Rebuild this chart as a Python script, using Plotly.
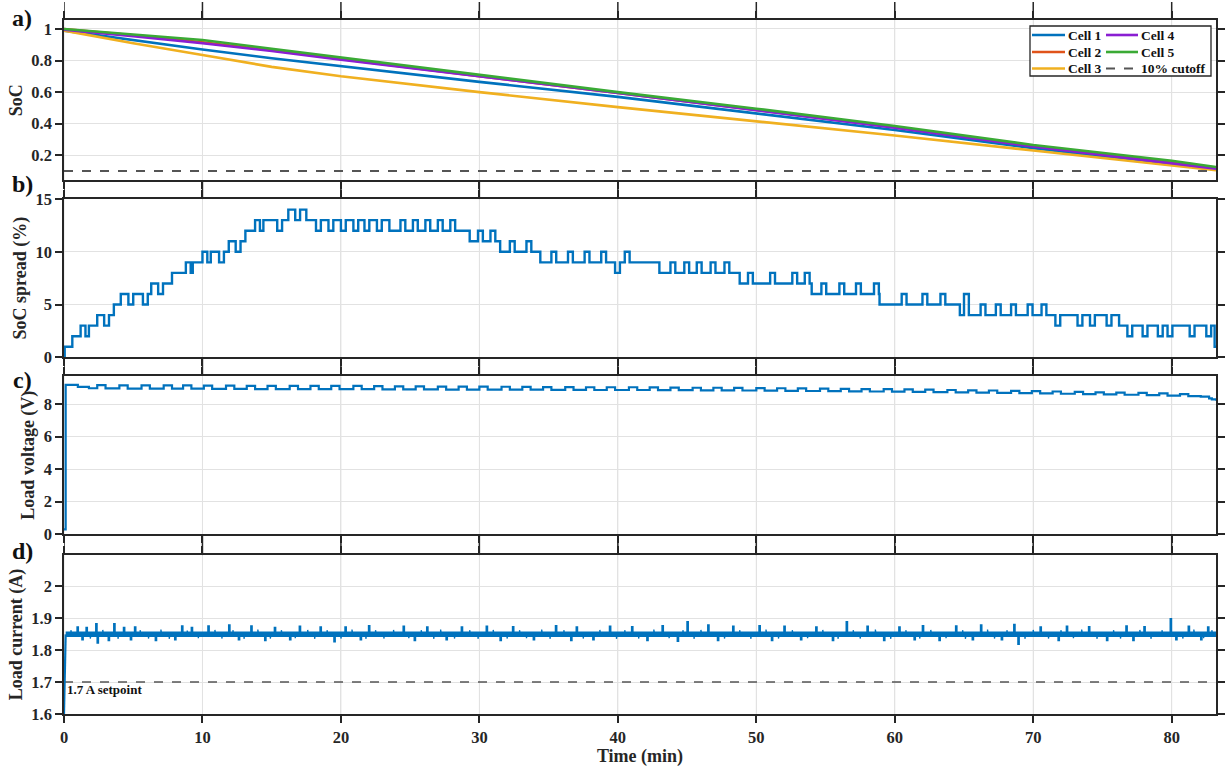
import bisect
import plotly.graph_objects as go

# ---------------- data ----------------
time_pts = [0, 5, 10, 15, 20, 30, 40, 50, 60, 70, 80, 83.2]
soc_cell1 = [0.99, 0.93, 0.87, 0.815, 0.765, 0.665, 0.57, 0.465, 0.36, 0.245, 0.145, 0.11]
soc_cell2 = [1.00, 0.96, 0.915, 0.865, 0.81, 0.70, 0.595, 0.488, 0.378, 0.258, 0.155, 0.118]
soc_cell3 = [0.99, 0.91, 0.835, 0.76, 0.70, 0.60, 0.505, 0.415, 0.325, 0.23, 0.135, 0.105]
soc_cell4 = [0.995, 0.955, 0.91, 0.86, 0.805, 0.70, 0.595, 0.485, 0.375, 0.255, 0.152, 0.115]
soc_cell5 = [1.00, 0.965, 0.93, 0.875, 0.82, 0.71, 0.60, 0.495, 0.385, 0.265, 0.165, 0.125]
cell_names = ["Cell 1", "Cell 2", "Cell 3", "Cell 4", "Cell 5"]
cell_colors = ["#0072BD", "#E0531A", "#F0B020", "#8A1ED2", "#3AAA35"]
cutoff_soc = 0.10
cutoff_name = "10% cutoff"

# SoC spread: base step levels and short excursions
spread_level_t = [0, 0.05, 0.6, 1.8, 2.4, 3.6, 4.1, 6.3, 7.8, 9.3, 10.6, 11.9, 13.1, 14.4,
                  16.2, 17.5, 23.5, 29.3, 31.5, 34.4, 43.0, 48.8, 54.0, 58.9, 64.7, 76.2, 83.1, 83.2]
spread_level_v = [0, 1, 2, 3, 4, 5, 6, 7, 8, 9, 10, 11, 12, 13,
                  14, 13, 12, 11, 10, 9, 8, 7, 6, 5, 4, 3, 1, 1]
spread_spike_t = [1.2, 2.9, 4.65, 5.7, 6.8, 8.8, 10.0, 11.2, 12.4, 13.8, 15.4, 16.7,
                  18.2, 19.1, 20.0, 20.9, 21.7, 22.6,
                  24.3, 25.2, 26.1, 27.0, 27.9, 29.9, 30.8, 32.2, 33.4,
                  35.2, 36.4, 37.6, 38.8, 39.8, 40.5,
                  43.8, 44.8, 45.7, 46.7, 47.7, 49.4, 51.0, 52.6, 53.5,
                  54.7, 56.0, 57.2, 58.5, 60.5, 62.0, 63.3,
                  65.0, 66.2, 67.3, 68.4, 69.6, 70.6, 71.6, 73.2, 74.1, 75.3,
                  76.8, 77.9, 79.0, 79.7, 81.3, 82.5]
spread_spike_v = [3, 3, 5, 5, 6, 9, 10, 9, 10, 13, 12, 13,
                  12, 12, 12, 12, 12, 12,
                  13, 13, 13, 13, 13, 12, 12, 11, 11,
                  10, 10, 10, 10, 8, 10,
                  9, 9, 9, 9, 9, 8, 8, 8, 8,
                  7, 7, 7, 7, 6, 6, 6,
                  6, 5, 5, 5, 5, 5, 3, 3, 3, 3,
                  2, 2, 2, 2, 2, 2]
spread_spike_w = 0.35

# Load voltage: start-up, then square bumps
volt_start_t = [0.0, 0.12, 1.0, 1.8]
volt_start_v = [0.3, 9.17, 9.05, 8.97]
volt_bump_t = [2.4, 4.0, 5.6, 7.2, 8.6, 10.1, 11.7, 13.2, 14.7, 16.3, 17.8, 19.3, 20.9, 22.4,
               23.9, 25.4, 27.0, 28.5, 30.0, 31.6, 33.1, 34.6, 36.2, 37.7, 39.2, 40.8, 42.3,
               43.8, 45.4, 46.9, 48.4, 50.0, 51.5, 53.0, 54.6, 56.1, 57.6, 59.2, 60.7, 62.2,
               63.8, 65.3, 66.8, 68.4, 69.9, 71.4, 73.0, 74.5, 76.0, 77.6, 79.1, 80.6, 82.1]
volt_low = [8.96, 8.95, 8.95, 8.94, 8.94, 8.93, 8.93, 8.92, 8.92, 8.92, 8.91, 8.91, 8.91, 8.90,
            8.90, 8.90, 8.89, 8.89, 8.89, 8.88, 8.88, 8.87, 8.87, 8.86, 8.86, 8.86, 8.85,
            8.85, 8.84, 8.84, 8.83, 8.82, 8.81, 8.80, 8.79, 8.78, 8.77, 8.76, 8.75, 8.73,
            8.72, 8.70, 8.69, 8.67, 8.65, 8.63, 8.61, 8.59, 8.57, 8.55, 8.52, 8.49, 8.35]
volt_bump_h = [0.20, 0.20, 0.20, 0.20, 0.20, 0.20, 0.20, 0.20, 0.20, 0.20, 0.20, 0.20, 0.20, 0.20,
               0.18, 0.18, 0.18, 0.18, 0.18, 0.18, 0.17, 0.17, 0.17, 0.17, 0.17, 0.17, 0.17,
               0.16, 0.16, 0.16, 0.16, 0.16, 0.16, 0.16, 0.16, 0.15, 0.15, 0.15, 0.15, 0.15,
               0.14, 0.14, 0.14, 0.14, 0.14, 0.14, 0.13, 0.13, 0.13, 0.13, 0.13, 0.12, 0.10]
volt_bump_w = 0.6
volt_end_t = [82.9, 83.2]
volt_end_v = [8.28, 8.2]

# Load current: band level, large spikes and small hair-like excursions
curr_start_t = [0.0, 0.12]
curr_start_v = [1.6, 1.849]
curr_level = 1.849
curr_spike_t = [0.95, 1.6, 2.3, 3.6, 4.3, 5.1, 8.5, 9.2, 10.4, 11.9, 13.5, 15.2, 17.0, 18.5, 20.3,
                22.0, 24.5, 26.2, 28.7, 30.5, 32.4, 35.5, 37.0, 39.4, 41.0, 43.2, 45.0, 46.5,
                48.3, 50.2, 52.0, 54.3, 56.5, 58.0, 60.3, 62.0, 64.4, 66.2, 68.6, 70.5, 72.4,
                74.0, 76.7, 78.0, 79.9, 81.2, 82.6,
                1.3, 2.4, 3.2, 4.8, 6.6, 8.0, 12.6, 14.5, 16.3, 19.5, 21.4, 25.3, 27.6, 31.5,
                33.9, 36.6, 38.2, 42.1, 44.3, 47.2, 51.1, 53.2, 55.5, 59.2, 61.4, 63.2, 65.6,
                67.7, 68.9, 71.8, 75.3, 77.2, 80.3, 82.1]
curr_spike_v = [1.872, 1.870, 1.882, 1.882, 1.870, 1.872, 1.875, 1.870, 1.875, 1.878, 1.875, 1.870,
                1.874, 1.872, 1.872, 1.876, 1.874, 1.872, 1.872, 1.874, 1.873, 1.876, 1.872,
                1.874, 1.873, 1.876, 1.888, 1.878, 1.874, 1.876, 1.874, 1.872, 1.888, 1.874,
                1.872, 1.876, 1.875, 1.878, 1.880, 1.872, 1.874, 1.873, 1.875, 1.873, 1.898,
                1.874, 1.872,
                1.832, 1.822, 1.830, 1.832, 1.830, 1.832, 1.832, 1.830, 1.832, 1.826, 1.832,
                1.830, 1.832, 1.830, 1.832, 1.830, 1.832, 1.830, 1.828, 1.830, 1.830, 1.832,
                1.830, 1.830, 1.832, 1.830, 1.832, 1.832, 1.818, 1.830, 1.830, 1.830, 1.832,
                1.832]
curr_hair_t = [0.5, 1.9, 2.8, 3.9, 5.5, 6.1, 7.0, 7.6, 8.9, 9.7, 10.9, 11.4, 12.2, 13.0, 14.0,
               14.9, 15.7, 16.7, 17.6, 18.1, 19.0, 20.0, 20.8, 21.8, 22.5, 23.1, 23.8, 24.9,
               25.8, 26.7, 27.2, 28.2, 29.3, 29.9, 31.0, 32.0, 32.9, 33.4, 34.5, 35.1, 36.1,
               37.5, 38.7, 39.9, 40.5, 41.5, 42.6, 43.7, 44.7, 45.5, 46.0, 47.7, 48.8, 49.6,
               50.7, 51.6, 52.6, 53.7, 54.8, 55.9, 57.0, 57.5, 58.6, 59.7, 60.8, 61.8, 62.6,
               63.7, 64.9, 65.1, 66.7, 67.2, 68.1, 69.4, 70.0, 71.1, 72.0, 72.9, 73.5, 74.6,
               75.8, 76.3, 77.7, 78.5, 79.3, 80.8, 81.6, 82.3, 82.9]
curr_hair_v = [1.862, 1.836, 1.863, 1.835, 1.862, 1.836, 1.864, 1.835, 1.861, 1.837, 1.863,
               1.836, 1.862, 1.835, 1.864, 1.836, 1.862, 1.837, 1.863, 1.835, 1.862, 1.836,
               1.864, 1.835, 1.862, 1.836, 1.863, 1.837, 1.862, 1.835, 1.864, 1.836, 1.862,
               1.835, 1.863, 1.836, 1.862, 1.837, 1.864, 1.835, 1.862, 1.836, 1.863, 1.835,
               1.862, 1.836, 1.864, 1.837, 1.862, 1.835, 1.863, 1.836, 1.862, 1.835, 1.864,
               1.836, 1.862, 1.837, 1.863, 1.835, 1.862, 1.836, 1.864, 1.835, 1.862, 1.836,
               1.863, 1.837, 1.862, 1.835, 1.864, 1.836, 1.862, 1.835, 1.863, 1.836, 1.862,
               1.837, 1.864, 1.835, 1.862, 1.836, 1.863, 1.835, 1.862, 1.836, 1.864, 1.837,
               1.862]
curr_spike_w = 0.08
setpoint = 1.7
setpoint_label = "1.7 A setpoint"

x_ticks = [0, 10, 20, 30, 40, 50, 60, 70, 80]
x_max = 83.2

# ---------------- build step series ----------------
def level_at(t):
    i = bisect.bisect_right(spread_level_t, t) - 1
    return spread_level_v[max(i, 0)]

ev = list(zip(spread_level_t, spread_level_v))
for ts, vs in zip(spread_spike_t, spread_spike_v):
    ev.append((ts, vs))
    ev.append((ts + spread_spike_w, level_at(ts + spread_spike_w)))
ev.sort(key=lambda p: p[0])
spread_x = [p[0] for p in ev]
spread_y = [p[1] for p in ev]

volt_x = list(volt_start_t)
volt_y = list(volt_start_v)
for ts, lo, h in zip(volt_bump_t, volt_low, volt_bump_h):
    volt_x += [ts, ts + volt_bump_w]
    volt_y += [lo + h, lo]
volt_x += volt_end_t
volt_y += volt_end_v

def spikes(ts_list, vs_list, w):
    xs, ys = [], []
    for ts, vs in zip(ts_list, vs_list):
        xs += [ts, ts, ts + w, ts + w, None]
        ys += [curr_level, vs, vs, curr_level, None]
    return xs, ys

spk_x, spk_y = spikes(curr_spike_t, curr_spike_v, curr_spike_w)
hair_x, hair_y = spikes(curr_hair_t, curr_hair_v, 0.05)

# ---------------- figure ----------------
BLUE = "#0072BD"
INK = "#262626"
FONT = "Liberation Serif, Times New Roman, serif"
fig = go.Figure()

for name, vals, col in zip(cell_names, [soc_cell1, soc_cell2, soc_cell3, soc_cell4, soc_cell5],
                           cell_colors):
    fig.add_trace(go.Scatter(x=time_pts, y=vals, mode="lines", name=name,
                             line=dict(color=col, width=2.6), showlegend=False,
                             xaxis="x", yaxis="y"))
fig.add_trace(go.Scatter(x=[0, x_max], y=[cutoff_soc, cutoff_soc], mode="lines",
                         name=cutoff_name, line=dict(color="#555555", width=2, dash="dash"),
                         showlegend=False, xaxis="x", yaxis="y"))

fig.add_trace(go.Scatter(x=spread_x, y=spread_y, mode="lines", line=dict(color=BLUE, width=2.4, shape="hv"),
                         showlegend=False, xaxis="x2", yaxis="y2"))
fig.add_trace(go.Scatter(x=volt_x, y=volt_y, mode="lines", line=dict(color=BLUE, width=2.2, shape="hv"),
                         showlegend=False, xaxis="x3", yaxis="y3"))

fig.add_trace(go.Scatter(x=[0, x_max], y=[setpoint, setpoint], mode="lines",
                         line=dict(color="#555555", width=1.5, dash="dash"),
                         showlegend=False, xaxis="x4", yaxis="y4"))
fig.add_trace(go.Scatter(x=[curr_start_t[-1], x_max], y=[curr_level, curr_level], mode="lines",
                         line=dict(color=BLUE, width=5.5), showlegend=False, xaxis="x4", yaxis="y4"))
fig.add_trace(go.Scatter(x=curr_start_t, y=curr_start_v, mode="lines",
                         line=dict(color=BLUE, width=2.2), showlegend=False, xaxis="x4", yaxis="y4"))
fig.add_trace(go.Scatter(x=hair_x, y=hair_y, mode="lines", line=dict(color=BLUE, width=1.3),
                         showlegend=False, xaxis="x4", yaxis="y4"))
fig.add_trace(go.Scatter(x=spk_x, y=spk_y, mode="lines", line=dict(color=BLUE, width=1.6),
                         showlegend=False, xaxis="x4", yaxis="y4"))

ax_common = dict(showline=True, linecolor=INK, linewidth=1.5, mirror="ticks",
                 ticks="outside", tickcolor=INK, tickwidth=1.5, automargin=False,
                 showgrid=True, gridcolor="#e2e2e2", gridwidth=1, zeroline=False,
                 tickfont=dict(size=16.5, color=INK))
xa = dict(ax_common, range=[0, x_max], tickvals=x_ticks, ticklen=7)
ya = dict(ax_common, ticklen=7)

domains = {"a": [0.769, 1.0], "b": [0.514, 0.742], "c": [0.259, 0.487], "d": [0.0, 0.229]}
ytitle = dict(font=dict(size=18, color=INK), standoff=4)

fig.update_layout(
    width=1225, height=767,
    margin=dict(l=64, r=9, t=20, b=53),
    paper_bgcolor="white", plot_bgcolor="white",
    font=dict(family=FONT, weight="bold", color=INK),
    showlegend=False,
    xaxis=dict(xa, anchor="y", showticklabels=False),
    xaxis2=dict(xa, anchor="y2", showticklabels=False),
    xaxis3=dict(xa, anchor="y3", showticklabels=False),
    xaxis4=dict(xa, anchor="y4", showticklabels=True,
                title=dict(text="Time (min)", font=dict(size=18, color=INK), standoff=9)),
    yaxis=dict(ya, domain=domains["a"], anchor="x", range=[0.041, 1.057],
               tickvals=[0.2, 0.4, 0.6, 0.8, 1.0], ticktext=["0.2", "0.4", "0.6", "0.8", "1"],
               title=dict(ytitle, text="SoC")),
    yaxis2=dict(ya, domain=domains["b"], anchor="x2", range=[0, 15], tickvals=[0, 5, 10, 15],
                title=dict(ytitle, text="SoC spread (%)")),
    yaxis3=dict(ya, domain=domains["c"], anchor="x3", range=[0, 9.72], tickvals=[0, 2, 4, 6, 8],
                title=dict(ytitle, text="Load voltage (V)")),
    yaxis4=dict(ya, domain=domains["d"], anchor="x4", range=[1.6, 2.097],
                tickvals=[1.6, 1.7, 1.8, 1.9, 2.0], ticktext=["1.6", "1.7", "1.8", "1.9", "2"],
                title=dict(ytitle, text="Load current (A)")),
)

# pixel -> paper helpers (plot area: x 64..1216, y 20..714)
def px(x):
    return (x - 64) / 1152.0

def py(y):
    return (714 - y) / 694.0

shapes = []
gaps = [(domains["a"][0], 1.0 + 18 / 694.0),
        (domains["b"][1], domains["a"][0]),
        (domains["c"][1], domains["b"][0]),
        (domains["d"][1], domains["c"][0])]
for xv in x_ticks:
    shapes.append(dict(type="line", xref="x4", yref="paper", x0=xv, x1=xv, y0=0, y1=1,
                       line=dict(color="#e2e2e2", width=1), layer="below"))
    for g0, g1 in gaps:
        if g0 == domains["a"][0]:
            g0 = 1.0
        shapes.append(dict(type="line", xref="x4", yref="paper", x0=xv, x1=xv, y0=g0, y1=g1,
                           line=dict(color=INK, width=1.5), layer="above"))

# manual two-column legend
shapes.append(dict(type="rect", xref="paper", yref="paper", x0=px(1030), x1=px(1211),
                   y0=py(76), y1=py(26), line=dict(color=INK, width=1.3),
                   fillcolor="white", layer="above"))
legend_entries = [(cell_names[0], cell_colors[0], "solid", 0, 0),
                  (cell_names[1], cell_colors[1], "solid", 0, 1),
                  (cell_names[2], cell_colors[2], "solid", 0, 2),
                  (cell_names[3], cell_colors[3], "solid", 1, 0),
                  (cell_names[4], cell_colors[4], "solid", 1, 1),
                  (cutoff_name, "#555555", "dash", 1, 2)]
col_line = [(1032, 1065), (1106, 1138)]
row_y = [35, 52, 68.5]
annos = []
for name, col, dash, c, r in legend_entries:
    x0, x1 = col_line[c]
    shapes.append(dict(type="line", xref="paper", yref="paper", x0=px(x0), x1=px(x1),
                       y0=py(row_y[r]), y1=py(row_y[r]),
                       line=dict(color=col, width=2.6 if dash == "solid" else 2, dash=dash),
                       layer="above"))
    annos.append(dict(text=name, xref="paper", yref="paper", x=px(x1 + 1), y=py(row_y[r]),
                      showarrow=False, xanchor="left", yanchor="middle",
                      font=dict(size=13.5, color="#111111")))
fig.update_layout(shapes=shapes)

for lab, yv in [("a)", 18), ("b)", 184), ("c)", 380), ("d)", 551)]:
    annos.append(dict(text=lab, xref="paper", yref="paper", x=px(22), y=py(yv), showarrow=False,
                      xanchor="center", yanchor="middle", font=dict(size=24, color="#111111")))
annos.append(dict(text=setpoint_label, xref="x4", yref="y4", x=0.1, y=1.676, showarrow=False,
                  xanchor="left", yanchor="middle", font=dict(size=13, color="#111111")))
fig.update_layout(annotations=annos)

fig.write_html("out.html", config={"displayModeBar": False},
               post_script="document.body.style.margin='0';document.body.style.overflow='hidden';")
